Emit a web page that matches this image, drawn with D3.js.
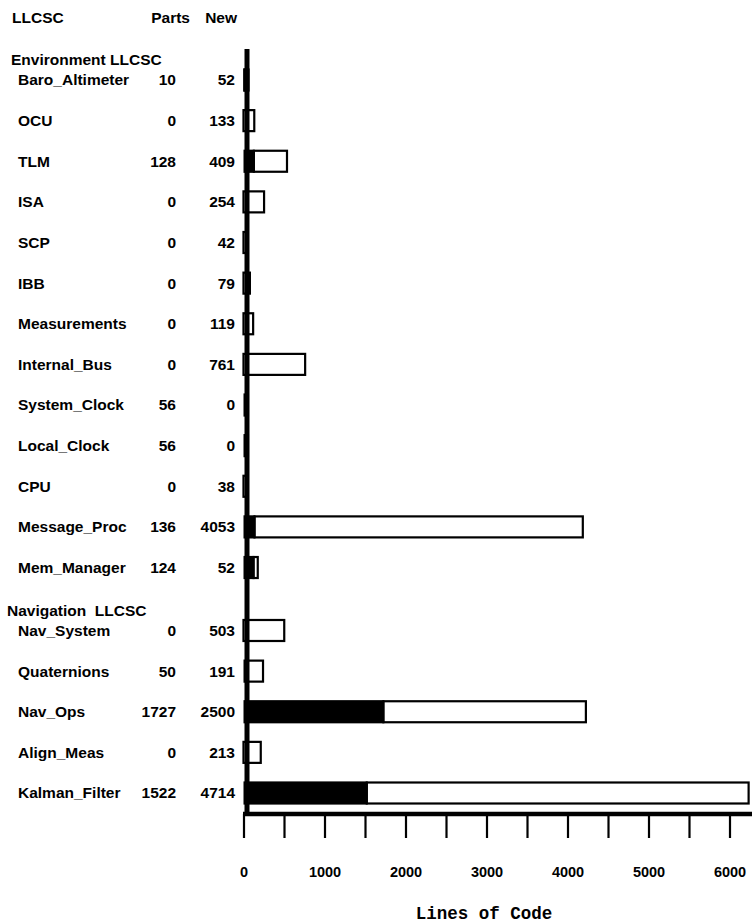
<!DOCTYPE html>
<html>
<head>
<meta charset="utf-8">
<script src="https://cdn.jsdelivr.net/npm/d3@7"></script>
<style>
  html, body { margin: 0; padding: 0; background: #fff; }
  svg { display: block; }
  .lbl { font-family: "Liberation Sans", Arial, sans-serif; font-weight: bold; font-size: 15.5px; fill: #000; }
</style>
</head>
<body>
<svg id="chart" width="752" height="924"></svg>
<script>
// ---- data ----
const groups = ["Environment LLCSC", "Navigation  LLCSC"];
const groupOf = [0,0,0,0,0,0,0,0,0,0,0,0,0, 1,1,1,1,1];
const names = ["Baro_Altimeter","OCU","TLM","ISA","SCP","IBB","Measurements","Internal_Bus",
               "System_Clock","Local_Clock","CPU","Message_Proc","Mem_Manager",
               "Nav_System","Quaternions","Nav_Ops","Align_Meas","Kalman_Filter"];
const parts = [10,0,128,0,0,0,0,0,56,56,0,136,124, 0,50,1727,0,1522];
const newLines = [52,133,409,254,42,79,119,761,0,0,38,4053,52, 503,191,2500,213,4714];
const tickValues = [0,500,1000,1500,2000,2500,3000,3500,4000,4500,5000,5500,6000];
const tickLabels = ["0","","1000","","2000","","3000","","4000","","5000","","6000"];
const headers = ["LLCSC","Parts","New"];
const xTitle = "Lines of Code";

// ---- layout ----
const svg = d3.select("#chart");
const x = d3.scaleLinear().domain([0, 6000]).range([243.5, 729.5]);
const groupGap = 0.55;
const slot = names.map((d, i) => i + groupOf[i] * groupGap);
const y = d3.scaleLinear().domain([0, 17 + groupGap]).range([80, 793]);
const barH = 21;
const axisY = 814;

// headers
svg.append("text").attr("class","lbl").attr("x",12).attr("y",18).attr("dy","0.35em").text(headers[0]);
svg.append("text").attr("class","lbl").attr("x",190).attr("y",18).attr("dy","0.35em").attr("text-anchor","end").text(headers[1]);
svg.append("text").attr("class","lbl").attr("x",237).attr("y",18).attr("dy","0.35em").attr("text-anchor","end").text(headers[2]);

// group headers
groups.forEach((g, gi) => {
  const first = groupOf.indexOf(gi);
  svg.append("text").attr("class","lbl")
    .attr("x", gi === 0 ? 11 : 7)
    .attr("y", y(slot[first]) - 20).attr("dy","0.35em")
    .style("white-space","pre").attr("xml:space","preserve")
    .text(g);
});

const rows = names.map((n, i) => ({ name: n, parts: parts[i], nw: newLines[i], yy: y(slot[i]) }));

// row labels
const rg = svg.append("g");
rg.selectAll(".nm").data(rows).join("text").attr("class","lbl nm")
  .attr("x", 18).attr("y", d => d.yy).attr("dy","0.35em").text(d => d.name);
rg.selectAll(".pt").data(rows).join("text").attr("class","lbl pt")
  .attr("x", 176).attr("y", d => d.yy).attr("dy","0.35em").attr("text-anchor","end").text(d => d.parts);
rg.selectAll(".nw").data(rows).join("text").attr("class","lbl nw")
  .attr("x", 235).attr("y", d => d.yy).attr("dy","0.35em").attr("text-anchor","end").text(d => d.nw);

// bars: new (white outlined) then parts (black)
const bg = svg.append("g");
bg.selectAll(".newbar").data(rows.filter(d => d.nw > 0)).join("rect").attr("class","newbar")
  .attr("x", d => x(d.parts)).attr("y", d => d.yy - barH/2)
  .attr("width", d => x(d.parts + d.nw) - x(d.parts)).attr("height", barH)
  .attr("fill","#fff").attr("stroke","#000").attr("stroke-width",2.2);
bg.selectAll(".partbar").data(rows.filter(d => d.parts > 0)).join("rect").attr("class","partbar")
  .attr("x", x(0)).attr("y", d => d.yy - barH/2 - 1.1)
  .attr("width", d => x(d.parts) - x(0) + 1).attr("height", barH + 2.2)
  .attr("fill","#000");

// vertical axis line
svg.append("line").attr("x1", 247).attr("x2", 247).attr("y1", 49).attr("y2", axisY)
  .attr("stroke","#000").attr("stroke-width",5);

// x axis
const xAxis = d3.axisBottom(x).tickValues(tickValues)
  .tickFormat((d, i) => tickLabels[i]).tickSize(24).tickPadding(29);
const ax = svg.append("g").attr("transform", `translate(0,${axisY})`).call(xAxis);
ax.select(".domain").remove();
ax.selectAll(".tick line").attr("stroke","#000").attr("stroke-width",2.2);
ax.selectAll(".tick text").attr("fill","#000")
  .style("font-family","'Liberation Sans', Arial, sans-serif")
  .style("font-weight","bold").style("font-size","14.5px");
svg.append("line").attr("x1", 243).attr("x2", 752).attr("y1", axisY).attr("y2", axisY)
  .attr("stroke","#000").attr("stroke-width",4.5);

// axis title
svg.append("text").attr("x", 484).attr("y", 913).attr("dy","0.35em").attr("text-anchor","middle")
  .style("font-family","'Liberation Mono', 'DejaVu Sans Mono', monospace")
  .style("font-weight","bold").style("font-size","17.5px").text(xTitle);
</script>
</body>
</html>
